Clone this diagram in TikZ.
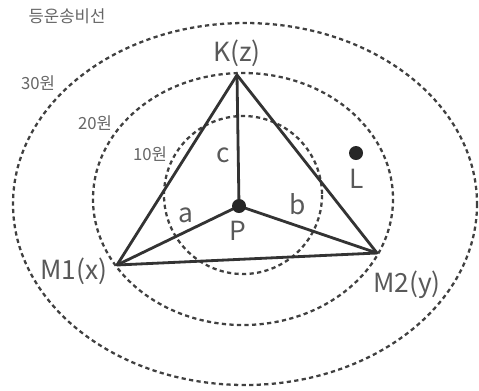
\documentclass[tikz,border=0pt]{standalone}
\usepackage{fontspec}
\setmainfont{Noto Sans CJK KR}
\begin{document}
\begin{tikzpicture}[x=0.02cm, y=-0.02cm, line width=1.6pt,
    every node/.style={text=black!65, inner sep=1pt, font=\fontsize{15}{17}\selectfont},
    isocost/.style={black!75, line width=1.3pt, dash pattern=on 2.4pt off 1.9pt},
    costlabel/.style={text=black!60, font=\fontsize{9.5}{11}\selectfont}]
  \useasboundingbox (0,0) rectangle (479,390);
  % Iso-cost ellipses around P
  \draw[isocost] (245,204) ellipse [x radius=232, y radius=181];
  \draw[isocost] (243,199) ellipse [x radius=150, y radius=126];
  \draw[isocost] (243,195) ellipse [x radius=79, y radius=79];
  \node[costlabel] (t30) at (38,83) {30원};
  \node[costlabel] (t20) at (95,123) {20원};
  \node[costlabel] (t10) at (150,154) {10원};
  \node[costlabel] (title) at (67,16) {등운송비선};
  % Corners and the site
  \coordinate (K) at (237,75);
  \coordinate (M1) at (117,265);
  \coordinate (M2) at (377,253);
  \coordinate (P) at (239,206);
  \draw[black!80, line join=round] (K) -- (M1) -- (M2) -- cycle;
  \draw[black!80] (P) -- (K);
  \draw[black!80] (P) -- (M1);
  \draw[black!80] (P) -- (M2);
  \fill[black!85] (P) circle (7);
  \fill[black!85] (356,153) circle (7);
  % Labels
  \node (Klab) at (237,53) {K(z)};
  \node (M1lab) at (74,271) {M1(x)};
  \node (M2lab) at (407,285) {M2(y)};
  \node (Plab) at (238,231) {P};
  \node (Llab) at (357,179) {L};
  \node (alab) at (186,215) {a};
  \node (blab) at (298,204) {b};
  \node (clab) at (223,155) {c};
\end{tikzpicture}
\end{document}
